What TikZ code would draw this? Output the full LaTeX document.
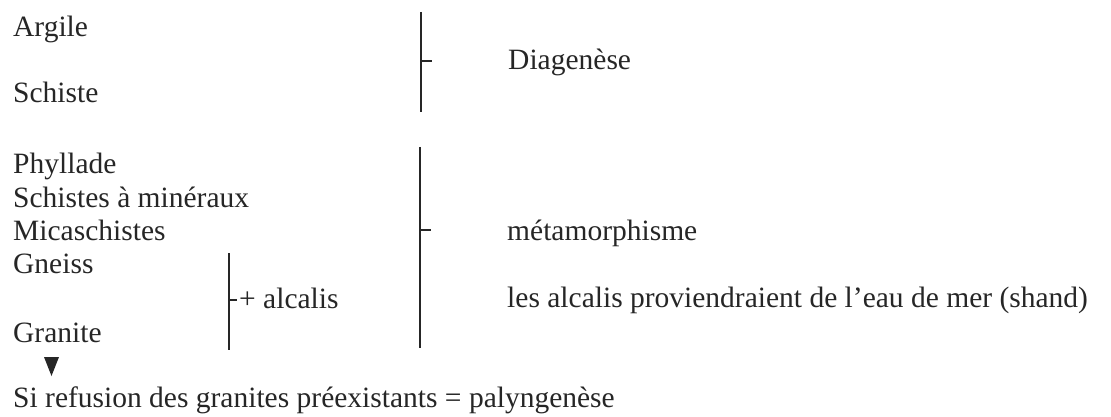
\documentclass[tikz,border=0pt]{standalone}
\usepackage{fontspec}
\setmainfont{Liberation Serif}
\definecolor{ink}{HTML}{262626}
\begin{document}
\begin{tikzpicture}[x=1pt,y=-1pt,
  txt/.style={anchor=base west,inner sep=0pt,text=ink,font=\fontsize{29.5}{33}\selectfont},
  brace/.style={draw=ink,line width=1.8pt},
  tick/.style={draw=ink,line width=1.6pt}]
\useasboundingbox (0,0) rectangle (1111,417);
% left column
\node[txt] (argile) at (13,37) {Argile};
\node[txt] (schiste) at (13,103) {Schiste};
\node[txt] (phyllade) at (13,173) {Phyllade};
\node[txt] (schmin) at (13,207) {Schistes à minéraux};
\node[txt] (mica) at (13,240) {Micaschistes};
\node[txt] (gneiss) at (13,273) {Gneiss};
\node[txt] (granite) at (13,342) {Granite};
\node[txt] (refusion) at (13,407) {Si refusion des granites préexistants = palyngenèse};
% right texts
\node[txt] (diag) at (508,70) {Diagenèse};
\node[txt] (meta) at (507,240) {métamorphisme};
\node[txt] (alcsrc) at (507,307) {les alcalis proviendraient de l’eau de mer (shand)};
\node[txt] (alc) at (239,308) {+ alcalis};
% bracket 1
\coordinate (b1t) at (421,12);
\coordinate (b1b) at (421,112);
\coordinate (b1m) at (421,61);
\coordinate (b1e) at (432,61);
\draw[brace] (b1t) -- (b1b);
\draw[tick] (b1m) -- (b1e);
% bracket 2
\coordinate (b2t) at (420,147);
\coordinate (b2b) at (420,348);
\coordinate (b2m) at (420,230);
\coordinate (b2e) at (431,230);
\draw[brace] (b2t) -- (b2b);
\draw[tick] (b2m) -- (b2e);
% small bracket
\coordinate (b3t) at (229,253);
\coordinate (b3b) at (229,350);
\coordinate (b3m) at (229,300);
\coordinate (b3e) at (237,300);
\draw[brace] (b3t) -- (b3b);
\draw[tick] (b3m) -- (b3e);
% arrow triangle
\coordinate (t1) at (44,357);
\coordinate (t2) at (59,357);
\coordinate (t3) at (51.5,376);
\fill[ink] (t1) -- (t2) -- (t3) -- cycle;
\end{tikzpicture}
\end{document}
